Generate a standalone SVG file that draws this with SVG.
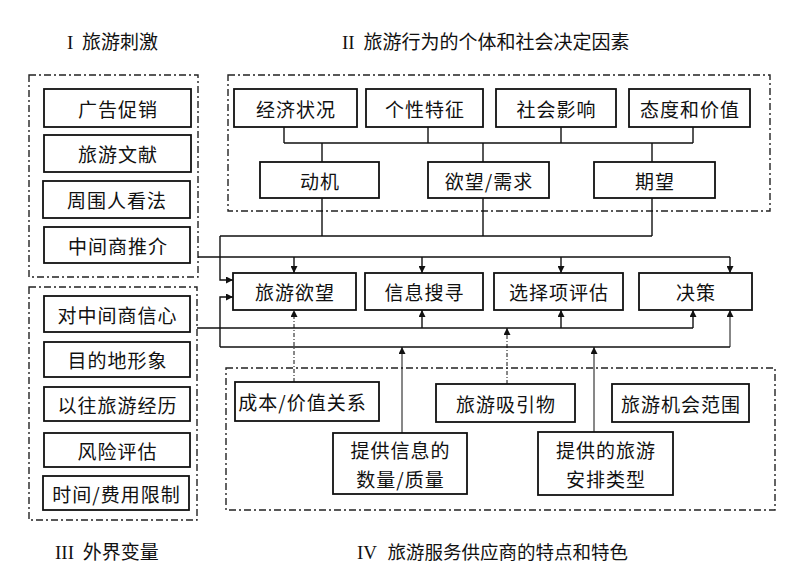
<svg xmlns="http://www.w3.org/2000/svg" width="812" height="585" viewBox="0 0 812 585">
<defs>
<marker id="ah" viewBox="0 0 10 10" refX="10" refY="5" markerWidth="7" markerHeight="7" markerUnits="userSpaceOnUse" orient="auto">
<path d="M0,0 L10,5 L0,10 z" fill="#111"/>
</marker>
<style>
.grp{fill:none;stroke:#222;stroke-width:1.4;stroke-dasharray:7,3,2,3}
.box{fill:#fff;stroke:#111;stroke-width:1.8}
.t{font-family:"Noto Sans CJK SC","Liberation Sans",sans-serif;font-size:19px;fill:#111;text-anchor:middle;dominant-baseline:central;letter-spacing:1px}
.h{font-family:"Liberation Serif","Noto Sans CJK SC",serif;font-size:19px;fill:#111}
.c{fill:none;stroke:#111;stroke-width:1.4}
.thin{fill:none;stroke:#111;stroke-width:1}
.dot{fill:none;stroke:#111;stroke-width:1;stroke-dasharray:4,2,1,2}
</style>
</defs>
<rect width="812" height="585" fill="#fff"/>

<g id="titles">
<text class="h" x="67" y="49">I <tspan font-family="Noto Sans CJK SC, sans-serif" dx="4">旅游刺激</tspan></text>
<text class="h" x="342" y="49">II <tspan font-family="Noto Sans CJK SC, sans-serif" dx="4">旅游行为的个体和社会决定因素</tspan></text>
<text class="h" x="55" y="559">III <tspan font-family="Noto Sans CJK SC, sans-serif" dx="4">外界变量</tspan></text>
<text class="h" x="357" y="559">IV <tspan font-family="Noto Sans CJK SC, sans-serif" font-size="18.5" dx="6">旅游服务供应商的特点和特色</tspan></text>
</g>

<g id="groups">
<rect class="grp" x="29" y="75" width="169" height="202"/>
<rect class="grp" x="228" y="75" width="542" height="136"/>
<rect class="grp" x="29" y="287" width="168" height="233"/>
<rect class="grp" x="226" y="368" width="549" height="142"/>
</g>

<g id="connectors">
<path class="c" d="M284,127 V143 M428,127 V143 M561,127 V143 M693,127 V143 M284,143 H693"/>
<path class="c" d="M322,143 V162 M483,143 V162 M652,143 V162"/>
<path class="c" d="M322,198 V236 M483,198 V236 M652,198 V236 M220,236 H652"/>
<path class="c" d="M220,236 V280 H233" marker-end="url(#ah)"/>
<path class="c" d="M198,257 H730"/>
<path class="c" d="M294,257 V273" marker-end="url(#ah)"/>
<path class="c" d="M422,257 V273" marker-end="url(#ah)"/>
<path class="c" d="M561,257 V273" marker-end="url(#ah)"/>
<path class="c" d="M730,257 V273" marker-end="url(#ah)"/>
<path class="c" d="M197,328 H693"/>
<path class="c" d="M422,328 V310" marker-end="url(#ah)"/>
<path class="c" d="M561,328 V310" marker-end="url(#ah)"/>
<path class="c" d="M693,328 V310" marker-end="url(#ah)"/>
<path class="c" d="M220,347 H730"/>
<path class="c" d="M220,347 V297 H233" marker-end="url(#ah)"/>
<path class="thin" d="M730,347 V310" marker-end="url(#ah)"/>
<path class="thin" d="M402,433 V347" marker-end="url(#ah)"/>
<path class="thin" d="M594,432 V347" marker-end="url(#ah)"/>
<path class="dot" d="M294,382 V310" marker-end="url(#ah)"/>
<path class="dot" d="M507,384 V328" marker-end="url(#ah)"/>
</g>

<g id="n-guanggao"><rect class="box" x="44" y="89" width="147" height="38"/><text class="t" x="118" y="108">广告促销</text></g>
<g id="n-wenxian"><rect class="box" x="44" y="135" width="147" height="37"/><text class="t" x="118" y="153.5">旅游文献</text></g>
<g id="n-kanfa"><rect class="box" x="43" y="181" width="147" height="37"/><text class="t" x="117" y="199.5">周围人看法</text></g>
<g id="n-tuijie"><rect class="box" x="44" y="227" width="146" height="36"/><text class="t" x="118" y="245">中间商推介</text></g>

<g id="n-jingji"><rect class="box" x="234" y="89" width="123" height="38"/><text class="t" x="296" y="108">经济状况</text></g>
<g id="n-gexing"><rect class="box" x="366" y="89" width="117" height="38"/><text class="t" x="425" y="108">个性特征</text></g>
<g id="n-shehui"><rect class="box" x="496" y="89" width="120" height="38"/><text class="t" x="556.5" y="108">社会影响</text></g>
<g id="n-taidu"><rect class="box" x="629" y="89" width="121" height="38"/><text class="t" x="690" y="108">态度和价值</text></g>
<g id="n-dongji"><rect class="box" x="260" y="162" width="119" height="36"/><text class="t" x="320" y="180">动机</text></g>
<g id="n-yuwang"><rect class="box" x="428" y="162" width="121" height="36"/><text class="t" x="489" y="180">欲望/需求</text></g>
<g id="n-qiwang"><rect class="box" x="594" y="162" width="121" height="36"/><text class="t" x="655" y="180">期望</text></g>

<g id="n-lvyouyuwang"><rect class="box" x="233" y="273" width="123" height="37"/><text class="t" x="295" y="291.5">旅游欲望</text></g>
<g id="n-xinxi"><rect class="box" x="365" y="273" width="118" height="37"/><text class="t" x="424.5" y="291.5">信息搜寻</text></g>
<g id="n-xuanze"><rect class="box" x="494" y="273" width="129" height="37"/><text class="t" x="559" y="291.5">选择项评估</text></g>
<g id="n-juece"><rect class="box" x="639" y="273" width="113" height="37"/><text class="t" x="696" y="291.5">决策</text></g>

<g id="n-xinxin"><rect class="box" x="44" y="296" width="146" height="36"/><text class="t" x="117.5" y="314">对中间商信心</text></g>
<g id="n-xingxiang"><rect class="box" x="44" y="342" width="146" height="35"/><text class="t" x="117.5" y="359.5">目的地形象</text></g>
<g id="n-jingli"><rect class="box" x="44" y="387" width="146" height="34"/><text class="t" x="117.5" y="404">以往旅游经历</text></g>
<g id="n-fengxian"><rect class="box" x="44" y="433" width="146" height="34"/><text class="t" x="117.5" y="450">风险评估</text></g>
<g id="n-xianzhi"><rect class="box" x="43" y="476" width="146" height="34"/><text class="t" x="116.5" y="493">时间/费用限制</text></g>

<g id="n-chengben"><rect class="box" x="235" y="382" width="144" height="39"/><text class="t" x="302.5" y="401.5">成本/价值关系</text></g>
<g id="n-xiyinwu"><rect class="box" x="436" y="384" width="139" height="38"/><text class="t" x="506" y="403">旅游吸引物</text></g>
<g id="n-jihui"><rect class="box" x="612" y="384" width="137" height="38"/><text class="t" x="681" y="403">旅游机会范围</text></g>
<g id="n-shuliang"><rect class="box" x="333" y="433" width="134" height="61"/><text class="t" x="400.5" y="449">提供信息的</text><text class="t" x="400.5" y="478">数量/质量</text></g>
<g id="n-anpai"><rect class="box" x="538" y="432" width="135" height="63"/><text class="t" x="606" y="449">提供的旅游</text><text class="t" x="606" y="478">安排类型</text></g>
</svg>
